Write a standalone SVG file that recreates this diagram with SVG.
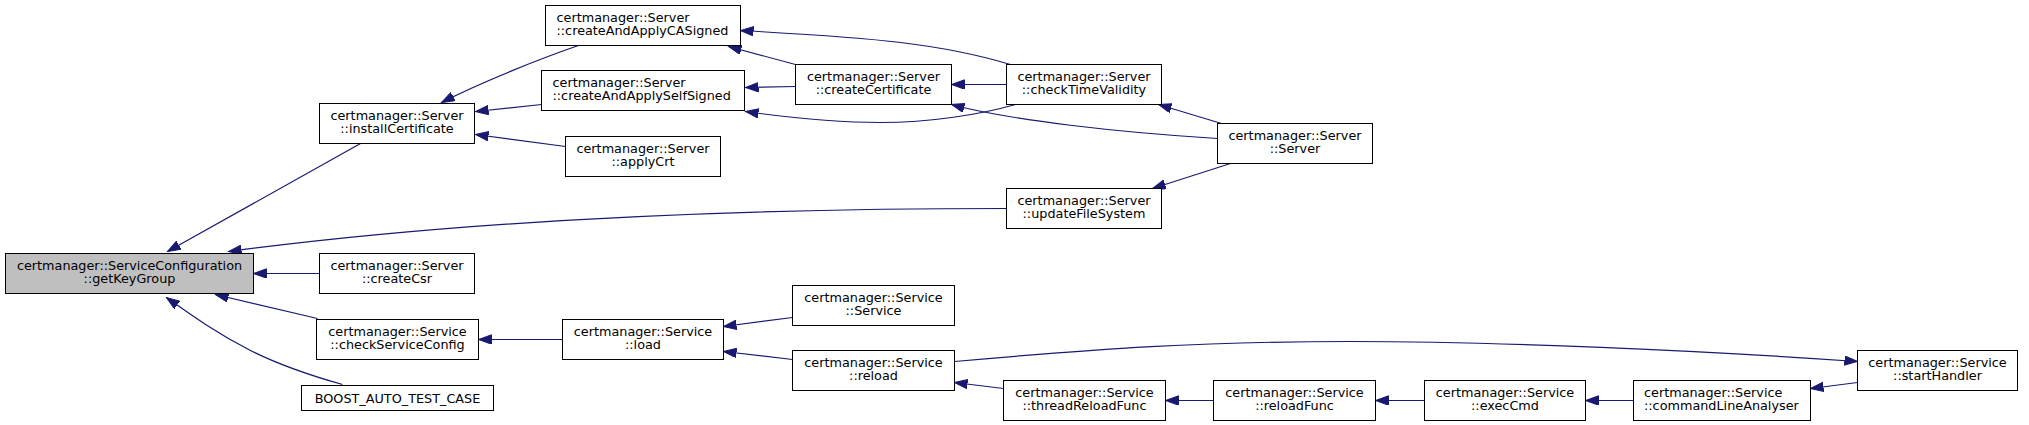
<svg xmlns="http://www.w3.org/2000/svg" width="2029" height="425" viewBox="0 0 2029 425">
<style>
.n rect{fill:#ffffff;stroke:#000000;stroke-width:1}
.root rect{fill:#bfbfbf}
.n text{font-family:"DejaVu Sans",sans-serif;font-size:12.8px;fill:#000000;text-anchor:middle}
.n text.l{text-anchor:start}
.e path{fill:none;stroke:#191970;stroke-width:1.2;marker-end:url(#ah)}
</style>
<defs>
<marker id="ah" markerUnits="userSpaceOnUse" markerWidth="14" markerHeight="10" refX="13" refY="4.7" orient="auto" viewBox="0 0 14 10">
<path d="M0,0 L13,4.7 L0,9.4 Z" fill="#191970" stroke="#191970" stroke-width="1"/>
</marker>
</defs>
<rect x="0" y="0" width="2029" height="425" fill="#ffffff"/>
<g transform="translate(0.5,0.5)">
<g id="edges" class="e">
<path d="M360,143 L167,251"/>
<path d="M1006,208 C800,208 500,215 228,251"/>
<path d="M319,273 L253,273"/>
<path d="M317,318 L215,294"/>
<path d="M342,384 C310,375 280,365 250,350 C215,332 190,314 166,297"/>
<path d="M578,45 C540,58 480,82 441,102"/>
<path d="M541,104 L475,111"/>
<path d="M565,146 L475,134"/>
<path d="M795,64 L728,46"/>
<path d="M795,86 L745,87"/>
<path d="M1010,64 C980,55 950,48 900,42 C850,36 790,33 740,30"/>
<path d="M1006,84 L951,84"/>
<path d="M1015,104 C980,114 930,122 880,122 C830,122 780,116 745,111"/>
<path d="M1221,123 L1158,104"/>
<path d="M1217,138 C1120,132 1010,120 951,104"/>
<path d="M1230,163 L1152,188"/>
<path d="M562,339 L478,339"/>
<path d="M792,317 L723,326"/>
<path d="M792,359 L723,351"/>
<path d="M954,361 C1100,348 1200,341 1350,341 C1500,341 1700,350 1857,361"/>
<path d="M1003,388 L954,382"/>
<path d="M1213,400 L1165,400"/>
<path d="M1424,400 L1375,400"/>
<path d="M1633,400 L1585,400"/>
<path d="M1857,382 L1810,388"/>
</g>
<g id="getKeyGroup" class="n root"><rect x="5" y="253" width="248" height="40"/><text x="129" y="269">certmanager::ServiceConfiguration</text><text x="129" y="282.5">::getKeyGroup</text></g>
<g id="installCertificate" class="n"><rect x="319" y="103" width="155" height="40"/><text x="396.5" y="119">certmanager::Server</text><text x="396.5" y="132.5">::installCertificate</text></g>
<g id="createCsr" class="n"><rect x="319" y="253" width="155" height="40"/><text x="396.5" y="269">certmanager::Server</text><text x="396.5" y="282.5">::createCsr</text></g>
<g id="checkServiceConfig" class="n"><rect x="316" y="319" width="162" height="40"/><text x="397" y="335">certmanager::Service</text><text x="397" y="348.5">::checkServiceConfig</text></g>
<g id="BOOST_AUTO_TEST_CASE" class="n"><rect x="301" y="385" width="192" height="25"/><text x="397" y="402.5">BOOST_AUTO_TEST_CASE</text></g>
<g id="createAndApplyCASigned" class="n"><rect x="545" y="5" width="195" height="40"/><text class="l" x="556" y="21">certmanager::Server</text><text class="l" x="556" y="34.5">::createAndApplyCASigned</text></g>
<g id="createAndApplySelfSigned" class="n"><rect x="541" y="70" width="203" height="40"/><text class="l" x="552" y="86">certmanager::Server</text><text class="l" x="552" y="99.5">::createAndApplySelfSigned</text></g>
<g id="applyCrt" class="n"><rect x="565" y="136" width="155" height="40"/><text x="642.5" y="152">certmanager::Server</text><text x="642.5" y="165.5">::applyCrt</text></g>
<g id="createCertificate" class="n"><rect x="795" y="64" width="156" height="40"/><text x="873" y="80">certmanager::Server</text><text x="873" y="93.5">::createCertificate</text></g>
<g id="load" class="n"><rect x="562" y="319" width="161" height="40"/><text x="642.5" y="335">certmanager::Service</text><text x="642.5" y="348.5">::load</text></g>
<g id="Service" class="n"><rect x="792" y="285" width="162" height="40"/><text x="873" y="301">certmanager::Service</text><text x="873" y="314.5">::Service</text></g>
<g id="reload" class="n"><rect x="792" y="350" width="162" height="40"/><text x="873" y="366">certmanager::Service</text><text x="873" y="379.5">::reload</text></g>
<g id="checkTimeValidity" class="n"><rect x="1006" y="64" width="155" height="40"/><text x="1083.5" y="80">certmanager::Server</text><text x="1083.5" y="93.5">::checkTimeValidity</text></g>
<g id="Server" class="n"><rect x="1217" y="123" width="155" height="40"/><text x="1294.5" y="139">certmanager::Server</text><text x="1294.5" y="152.5">::Server</text></g>
<g id="updateFileSystem" class="n"><rect x="1006" y="188" width="155" height="40"/><text x="1083.5" y="204">certmanager::Server</text><text x="1083.5" y="217.5">::updateFileSystem</text></g>
<g id="threadReloadFunc" class="n"><rect x="1003" y="380" width="162" height="40"/><text x="1084" y="396">certmanager::Service</text><text x="1084" y="409.5">::threadReloadFunc</text></g>
<g id="reloadFunc" class="n"><rect x="1213" y="380" width="162" height="40"/><text x="1294" y="396">certmanager::Service</text><text x="1294" y="409.5">::reloadFunc</text></g>
<g id="execCmd" class="n"><rect x="1424" y="380" width="161" height="40"/><text x="1504.5" y="396">certmanager::Service</text><text x="1504.5" y="409.5">::execCmd</text></g>
<g id="commandLineAnalyser" class="n"><rect x="1633" y="380" width="177" height="40"/><text class="l" x="1643.5" y="396">certmanager::Service</text><text class="l" x="1643.5" y="409.5">::commandLineAnalyser</text></g>
<g id="startHandler" class="n"><rect x="1857" y="350" width="160" height="40"/><text x="1937" y="366">certmanager::Service</text><text x="1937" y="379.5">::startHandler</text></g>
</g>
</svg>
